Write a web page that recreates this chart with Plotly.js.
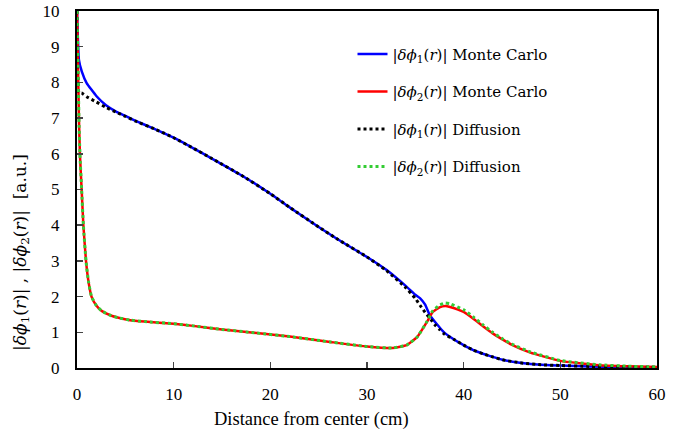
<!DOCTYPE html>
<html>
<head>
<meta charset="utf-8">
<script src="https://cdn.plot.ly/plotly-3.0.1.min.js"></script>
<style>html,body{margin:0;padding:0;background:#fff;}#chart{width:697px;height:435px;}</style>
</head>
<body>
<div id="chart"></div>
<script>
// Distance from center (cm)
const r1 = [0, 0.2, 0.5, 1, 2, 3, 4, 5, 6, 8, 10, 12, 14, 17, 20, 22, 25, 27, 30, 32, 34, 35, 35.5, 36, 36.5, 37, 37.5, 38, 39, 40, 41, 42, 43, 44, 46, 48, 50, 53, 56, 60];
const phi1MC = [10, 8.63, 8.3, 7.98, 7.62, 7.36, 7.19, 7.06, 6.93, 6.7, 6.45, 6.16, 5.86, 5.4, 4.88, 4.5, 3.95, 3.6, 3.11, 2.75, 2.3, 2.05, 1.95, 1.78, 1.48, 1.3, 1.14, 0.99, 0.8, 0.64, 0.5, 0.4, 0.31, 0.23, 0.14, 0.09, 0.07, 0.045, 0.03, 0.02];
const phi1Diff = [10, 7.72, 7.7, 7.6, 7.45, 7.3, 7.17, 7.05, 6.92, 6.7, 6.45, 6.16, 5.86, 5.4, 4.88, 4.5, 3.95, 3.6, 3.11, 2.73, 2.25, 1.95, 1.75, 1.56, 1.4, 1.22, 1.08, 0.95, 0.8, 0.64, 0.5, 0.4, 0.31, 0.23, 0.14, 0.09, 0.07, 0.045, 0.03, 0.02];

const r2 = [0, 0.1, 0.2, 0.3, 0.48, 0.66, 0.93, 1.2, 1.5, 2, 2.55, 3.5, 4.4, 5.5, 7, 10, 12, 15, 18.6, 22, 26.2, 30, 32.7, 34.1, 35.2, 36.2, 36.8, 37.5, 38.1, 38.6, 40, 41, 42, 43, 44, 45, 46.9, 50, 54, 57, 60];
const phi2MC = [10, 8.5, 7, 6, 5, 4, 3, 2.4, 2, 1.75, 1.6, 1.47, 1.4, 1.34, 1.3, 1.24, 1.18, 1.08, 0.98, 0.88, 0.73, 0.6, 0.56, 0.64, 0.87, 1.29, 1.57, 1.7, 1.74, 1.71, 1.57, 1.38, 1.17, 0.97, 0.8, 0.65, 0.43, 0.2, 0.08, 0.05, 0.03];
const phi2Diff = [10, 8.5, 7, 6, 5, 4, 3, 2.4, 2, 1.75, 1.6, 1.47, 1.4, 1.34, 1.3, 1.24, 1.18, 1.08, 0.98, 0.88, 0.73, 0.6, 0.56, 0.64, 0.87, 1.3, 1.6, 1.76, 1.82, 1.8, 1.63, 1.43, 1.21, 1.0, 0.82, 0.67, 0.45, 0.21, 0.09, 0.05, 0.03];

const names = [
  '|<i>δϕ</i><sub>1</sub>(<i>r</i>)| Monte Carlo',
  '|<i>δϕ</i><sub>2</sub>(<i>r</i>)| Monte Carlo',
  '|<i>δϕ</i><sub>1</sub>(<i>r</i>)| Diffusion',
  '|<i>δϕ</i><sub>2</sub>(<i>r</i>)| Diffusion'
];
const xTicks = [0, 10, 20, 30, 40, 50, 60];
const yTicks = [0, 1, 2, 3, 4, 5, 6, 7, 8, 9, 10];

const traces = [
  {x: r1, y: phi1MC, name: names[0], legendgroup: 'a', mode: 'lines', line: {color: '#0000ff', width: 2.5, shape: 'spline', smoothing: 0.4}},
  {x: r2, y: phi2MC, name: names[1], legendgroup: 'b', mode: 'lines', line: {color: '#ff0000', width: 2.5, shape: 'spline', smoothing: 0.4}},
  {x: r1, y: phi1Diff, name: names[2], legendgroup: 'c', mode: 'lines', line: {color: '#000000', width: 3, dash: 'dot', shape: 'spline', smoothing: 0.4}},
  {x: r2, y: phi2Diff, name: names[3], legendgroup: 'd', mode: 'lines', line: {color: '#33cc33', width: 3, dash: 'dot', shape: 'spline', smoothing: 0.4}}
];

const serif = '"Times New Roman", serif';
const wide = '"DejaVu Serif", serif';
const layout = {
  width: 697, height: 435,
  margin: {l: 77, r: 40, t: 11, b: 67},
  paper_bgcolor: '#fff', plot_bgcolor: '#fff',
  font: {family: serif, color: '#000', size: 17},
  showlegend: true,
  legend: {x: 0.475, xanchor: 'left', y: 0.925, yanchor: 'top', bgcolor: 'rgba(0,0,0,0)',
           font: {family: wide, size: 15, color: '#000'}, traceorder: 'grouped', tracegroupgap: 15},
  xaxis: {range: [0, 60], tickvals: xTicks, ticktext: xTicks.map(String), ticks: 'inside', ticklen: 6, tickwidth: 1.5,
          showline: true, linewidth: 2, linecolor: '#000', mirror: true, showgrid: false, zeroline: false,
          ticklabelstandoff: 10, tickfont: {family: serif, size: 17, color: '#000'}},
  yaxis: {range: [0, 10], tickvals: yTicks, ticktext: yTicks.map(String), ticks: 'inside', ticklen: 6, tickwidth: 1.5,
          showline: true, linewidth: 2, linecolor: '#000', mirror: true, showgrid: false, zeroline: false,
          ticklabelstandoff: 12, tickfont: {family: serif, size: 17, color: '#000'}},
  annotations: [
    {text: 'Distance from center (cm)', xref: 'paper', yref: 'paper', x: 0.405, y: -0.145, yanchor: 'middle', xanchor: 'center',
     showarrow: false, font: {family: serif, size: 18.5, color: '#000'}},
    {text: '|<i>δϕ</i><sub>1</sub>(<i>r</i>)| , |<i>δϕ</i><sub>2</sub>(<i>r</i>)|  [a.u.]', xref: 'paper', yref: 'paper', x: -0.095, y: 0.325,
     xanchor: 'center', yanchor: 'middle', textangle: -90, showarrow: false, font: {family: wide, size: 17, color: '#000'}}
  ]
};
Plotly.newPlot('chart', traces, layout, {displayModeBar: false, staticPlot: true});
</script>
</body>
</html>
